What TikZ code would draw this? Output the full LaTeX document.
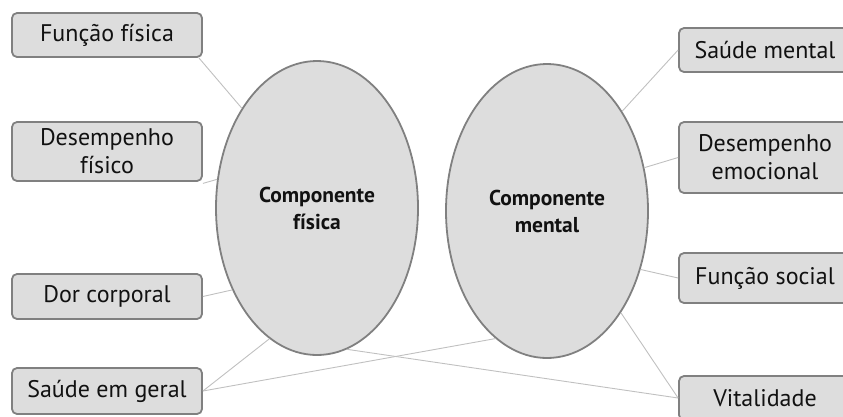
\documentclass[tikz,border=0pt]{standalone}
\usepackage{fontspec}
\setmainfont{PT Sans}
\usetikzlibrary{shapes.geometric}
\definecolor{boxfill}{HTML}{DDDDDD}
\definecolor{boxline}{HTML}{808080}
\definecolor{linkc}{HTML}{C0C0C0}
\definecolor{txt}{HTML}{111111}
\tikzset{
  itembox/.style={draw=boxline, line width=1.8pt, fill=boxfill, rounded corners=5pt,
    text=txt, align=center, inner sep=0pt, font=\fontsize{24}{28}\selectfont},
  compo/.style={ellipse, draw=boxline, line width=1.8pt, fill=boxfill, inner sep=0pt,
    minimum width=202pt, minimum height=294pt, text=txt, align=center,
    font=\bfseries\fontsize{21.5}{27}\selectfont},
  link/.style={draw=linkc, line width=0.9pt}
}
\begin{document}
\begin{tikzpicture}[x=1pt,y=-1pt]
\useasboundingbox (0,0) rectangle (843,416);
% left boxes
\node[itembox, minimum width=190pt, minimum height=44pt] (ff) at (107,35) {Função física};
\node[itembox, minimum width=190pt, minimum height=59pt] (df) at (107,151.5) {Desempenho\\físico};
\node[itembox, minimum width=190pt, minimum height=45pt] (dc) at (107,296.5) {Dor corporal};
\node[itembox, minimum width=190pt, minimum height=46pt] (sg) at (107,391) {Saúde em geral};
% right boxes
\node[itembox, minimum width=172pt, minimum height=44pt] (sm) at (765,50) {Saúde mental};
\node[itembox, minimum width=172pt, minimum height=71pt] (de) at (765,157.5) {Desempenho\\emocional};
\node[itembox, minimum width=172pt, minimum height=50pt] (fs) at (765,278) {Função social};
\node[itembox, minimum width=172pt, minimum height=44pt] (vt) at (765,398) {Vitalidade};
% ellipses
\node[compo] (cf) at (317,208) {Componente\\física};
\node[compo] (cm) at (547,211) {Componente\\mental};
% links
\draw[link] ([xshift=-4pt]ff.south east) -- (cf.127);
\draw[link] ([yshift=-1.5pt]df.south east) -- (cf.164);
\draw[link] (dc.east) -- (cf.224);
\draw[link] (sg.east) -- (cf.250);
\draw[link] (sg.east) -- (cm.248);
\draw[link] (cf.282) -- (vt.west);
\draw[link] (cm.306) -- (vt.west);
\draw[link] (sm.west) -- (cm.53);
\draw[link] (de.west) -- (cm.24);
\draw[link] (fs.west) -- (cm.-32);
\end{tikzpicture}
\end{document}
